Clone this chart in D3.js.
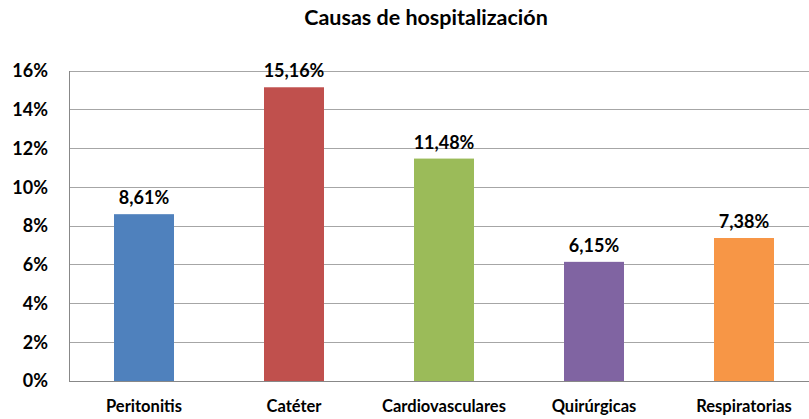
<!DOCTYPE html>
<html><head><meta charset="utf-8">
<script src="https://cdn.jsdelivr.net/npm/d3@7"></script>
<style>body{margin:0;background:#fff}svg{display:block}text{font-family:Lato,"Open Sans",sans-serif;font-weight:bold;fill:#000}</style>
</head><body><svg id="c" width="809" height="419"></svg>
<script>
const categories = ["Peritonitis","Catéter","Cardiovasculares","Quirúrgicas","Respiratorias"];
const values = [8.61, 15.16, 11.48, 6.15, 7.38];
const valueLabels = ["8,61%","15,16%","11,48%","6,15%","7,38%"];
const colors = ["#4F81BD","#C0504D","#9BBB59","#8064A2","#F79646"];
const yTicks = [0,2,4,6,8,10,12,14,16];
const title = "Causas de hospitalización";

(function(){
const svg = d3.select("#c");
const pl = 69, pr = 819, pt = 71, pb = 381;
const x = d3.scaleBand().domain(categories).range([pl, pr]).paddingInner(0.6).paddingOuter(0.3);
const y = d3.scaleLinear().domain([0,16]).range([pb, pt]);

svg.append("text").attr("x",426).attr("y",25).attr("text-anchor","middle").style("font-size","21.5px").text(title);

const grid = svg.append("g");
grid.selectAll("line").data(yTicks).join("line")
  .attr("x1",pl).attr("x2",pr).attr("y1",d=>y(d)).attr("y2",d=>y(d))
  .attr("stroke",d=>d===0?"#888":"#a6a6a6").attr("stroke-width",1).attr("shape-rendering","crispEdges");
svg.append("line").attr("x1",pl).attr("x2",pl).attr("y1",pt).attr("y2",pb)
  .attr("stroke","#888").attr("shape-rendering","crispEdges");

const yAxis = d3.axisLeft(y).tickValues(yTicks).tickFormat(d=>d+"%").tickSize(0).tickPadding(21);
const ga = svg.append("g").attr("transform",`translate(${pl},0)`).call(yAxis);
ga.select(".domain").remove();
ga.selectAll("text").style("font-size","18px").attr("fill","#000");

svg.selectAll("rect.bar").data(values).join("rect").attr("class","bar")
  .attr("x",(d,i)=>x(categories[i])).attr("width",x.bandwidth())
  .attr("y",d=>y(d)).attr("height",d=>pb-y(d)).attr("fill",(d,i)=>colors[i]);

svg.selectAll("text.vl").data(values).join("text").attr("class","vl")
  .attr("x",(d,i)=>x(categories[i])+x.bandwidth()/2).attr("y",d=>y(d)-10)
  .attr("text-anchor","middle").style("font-size","18px").text((d,i)=>valueLabels[i]);

const xAxis = d3.axisBottom(x).tickSize(0).tickPadding(19);
const gx = svg.append("g").attr("transform",`translate(0,${pb})`).call(xAxis);
gx.select(".domain").remove();
gx.selectAll("text").style("font-size","16.5px").attr("fill","#000");
})();
</script></body></html>
